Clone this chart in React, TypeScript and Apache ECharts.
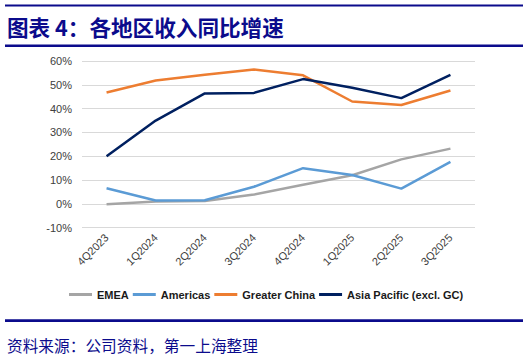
import React, { useEffect, useRef } from "react";
import * as echarts from "echarts";

const categories = ["4Q2023", "1Q2024", "2Q2024", "3Q2024", "4Q2024", "1Q2025", "2Q2025", "3Q2025"];
const emea = [-0.2, 1.0, 1.2, 3.9, 8.0, 12.0, 18.7, 23.2];
const americas = [6.6, 1.4, 1.5, 7.2, 15.0, 12.1, 6.4, 17.6];
const greaterChina = [46.8, 51.8, 54.2, 56.4, 54.0, 43.0, 41.5, 47.6];
const asiaPacific = [20.0, 35.0, 46.4, 46.6, 52.4, 48.8, 44.4, 54.2];
const seriesNames = ["EMEA", "Americas", "Greater China", "Asia Pacific (excl. GC)"];
const seriesColors = ["#A5A5A5", "#5B9BD5", "#ED7D31", "#002060"];
const title = "图表 4：各地区收入同比增速";
const source = "资料来源：公司资料，第一上海整理";

export default function App() {
  const ref = useRef<HTMLDivElement>(null);
  useEffect(() => {
    if (!ref.current) return;
    const chart = echarts.init(ref.current, undefined, { renderer: "svg" });
    const navy = "#0B0B8C";
    const data = [emea, americas, greaterChina, asiaPacific];
    chart.setOption({
      animation: false,
      backgroundColor: "#ffffff",
      graphic: [
        { type: "rect", shape: { x: 5, y: 4.5, width: 518, height: 2 }, style: { fill: navy } },
        { type: "rect", shape: { x: 5, y: 44.5, width: 518, height: 2.5 }, style: { fill: navy } },
        { type: "rect", shape: { x: 5, y: 319.3, width: 518, height: 2.7 }, style: { fill: navy } },
        {
          type: "text",
          x: 7,
          y: 26,
          style: {
            text: title,
            fill: navy,
            font: "bold 21.6px 'Noto Sans CJK SC', sans-serif",
            textVerticalAlign: "middle",
          },
        },
        {
          type: "text",
          x: 7,
          y: 345,
          style: {
            text: source,
            fill: navy,
            font: "15.7px 'Noto Sans CJK SC', sans-serif",
            textVerticalAlign: "middle",
          },
        },
      ],
      legend: {
        left: 64,
        top: 284,
        itemWidth: 23,
        itemHeight: 3,
        itemGap: 4,
        icon: "rect",
        data: seriesNames,
        textStyle: { fontFamily: "Liberation Sans, Arial", fontSize: 11, fontWeight: "bold", color: "#1a1a1a" },
      },
      grid: { left: 82, right: 54, top: 61, bottom: 130.3, containLabel: false },
      xAxis: {
        type: "category",
        data: categories,
        boundaryGap: true,
        axisLine: { show: false },
        axisTick: { show: false },
        axisLabel: {
          rotate: 45,
          margin: 8,
          interval: 0,
          fontFamily: "Liberation Sans, Arial",
          fontSize: 11,
          color: "#404040",
        },
      },
      yAxis: {
        type: "value",
        min: -10,
        max: 60,
        interval: 10,
        axisLine: { show: false },
        axisTick: { show: false },
        splitLine: { lineStyle: { color: "#D9D9D9", width: 1 } },
        axisLabel: {
          formatter: "{value}%",
          margin: 10,
          fontFamily: "Liberation Sans, Arial",
          fontSize: 11,
          color: "#404040",
        },
      },
      series: seriesNames.map((name, i) => ({
        name,
        type: "line",
        data: data[i],
        symbol: "none",
        color: seriesColors[i],
        lineStyle: { width: 2.5, color: seriesColors[i] },
        z: i + 2,
      })),
    });
    return () => chart.dispose();
  }, []);
  return (
    <div style={{ position: "fixed", left: 0, top: 0, width: 529, height: 358, background: "#fff" }}>
      <div ref={ref} style={{ width: 529, height: 358 }} />
    </div>
  );
}
